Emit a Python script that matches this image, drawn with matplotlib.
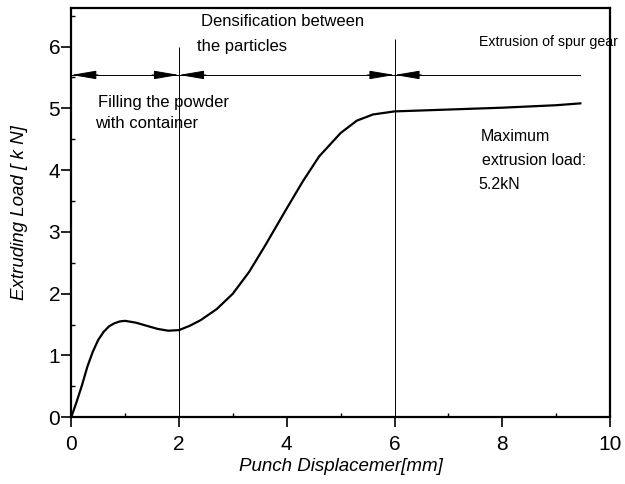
import numpy as np
import matplotlib
matplotlib.use('Agg')
import matplotlib.pyplot as plt
from matplotlib.ticker import MultipleLocator

plt.rcParams['font.family'] = ['Liberation Sans', 'DejaVu Sans']

# load curve
disp = [0.0, 0.1, 0.2, 0.3, 0.4, 0.5, 0.6, 0.7, 0.8, 0.9, 1.0, 1.2, 1.4, 1.6, 1.8, 2.0,
        2.2, 2.4, 2.7, 3.0, 3.3, 3.6, 4.0, 4.3, 4.6, 5.0, 5.3, 5.6, 6.0, 7.0, 8.0, 9.0, 9.45]
load = [0.0, 0.25, 0.52, 0.82, 1.06, 1.25, 1.38, 1.47, 1.52, 1.55, 1.56, 1.53, 1.48, 1.43, 1.4, 1.41,
        1.48, 1.57, 1.75, 2.0, 2.35, 2.78, 3.38, 3.82, 4.22, 4.6, 4.8, 4.9, 4.95, 4.98, 5.01, 5.05, 5.08]

stage_bounds = [2, 6]
arrow_y = 5.54

fig = plt.figure(figsize=(6.25, 4.84), dpi=100)
ax = fig.add_axes([0.114, 0.138, 0.862, 0.845])

ax.plot(disp, load, color='black', lw=1.6)

# stage boundaries
ax.vlines(stage_bounds[0], 0, 6.0, color='black', lw=0.7)
ax.vlines(stage_bounds[1], 0, 6.12, color='black', lw=0.7)

# horizontal line with arrow heads
ax.plot([0, 9.45], [arrow_y, arrow_y], color='black', lw=0.7)
aprops = dict(arrowstyle='-|>,head_length=1.3,head_width=0.22', color='black', lw=0.7,
              shrinkA=0, shrinkB=0, mutation_scale=12)
for tip, tail in [(0, 0.5), (2, 1.5), (2, 2.5), (6, 5.5), (6, 6.5)]:
    ax.annotate('', xy=(tip, arrow_y), xytext=(tail, arrow_y), arrowprops=aprops)

tfs = 12
ax.text(0.5, 5.1, 'Filling the powder', fontsize=tfs, va='center')
ax.text(0.45, 4.75, 'with container', fontsize=tfs, va='center')
ax.text(2.4, 6.4, 'Densification between', fontsize=tfs, va='center')
ax.text(2.33, 6.0, 'the particles', fontsize=tfs, va='center')
ax.text(7.57, 6.08, 'Extrusion of spur gear', fontsize=10.2, va='center')
ax.text(7.6, 4.55, 'Maximum', fontsize=11.5, va='center')
ax.text(7.62, 4.15, 'extrusion load:', fontsize=11.5, va='center')
ax.text(7.55, 3.77, '5.2kN', fontsize=11.5, va='center')

ax.set_xlim(0, 10)
ax.set_ylim(0, 6.62)
ax.xaxis.set_major_locator(MultipleLocator(2))
ax.xaxis.set_minor_locator(MultipleLocator(1))
ax.yaxis.set_major_locator(MultipleLocator(1))
ax.yaxis.set_minor_locator(MultipleLocator(0.5))
ax.tick_params(which='major', direction='out', length=7, width=1.2, labelsize=15)
ax.tick_params(axis='x', which='major', pad=6)
ax.tick_params(axis='y', which='major', pad=1)
ax.tick_params(which='minor', direction='in', length=3, width=1)
for s in ax.spines.values():
    s.set_linewidth(1.6)

ax.set_xlabel('Punch Displacemer[mm]', fontsize=13.5, style='italic', labelpad=3)
ax.set_ylabel('Extruding Load [ k N]', fontsize=13.5, style='italic', labelpad=15)

fig.savefig('out.png', dpi=100)
